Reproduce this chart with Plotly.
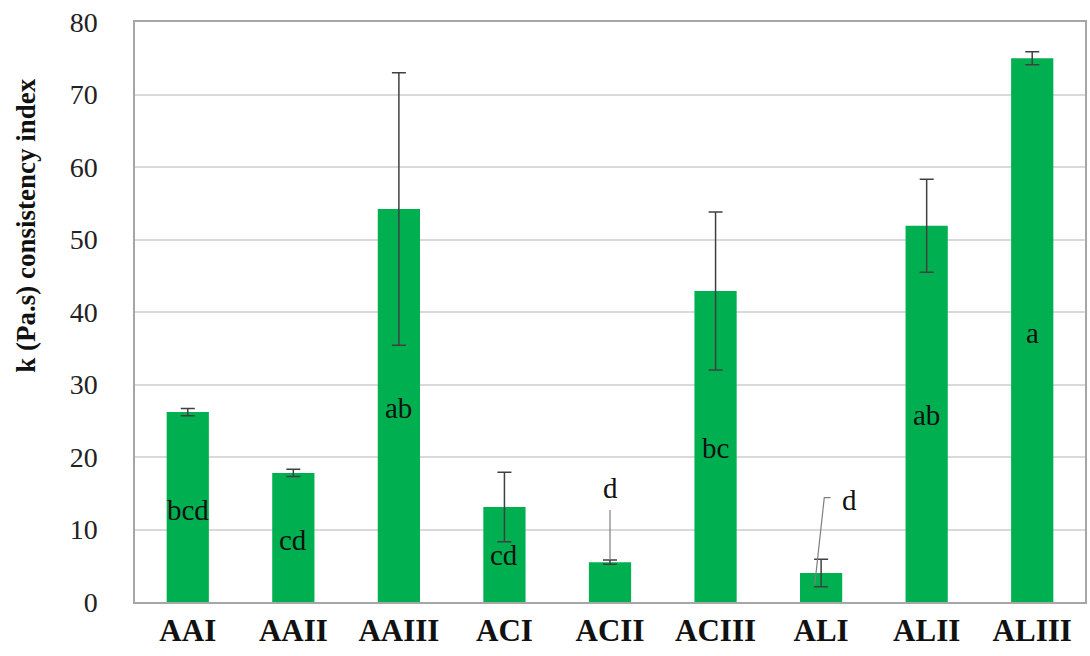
import plotly.graph_objects as go

categories = ["AAI", "AAII", "AAIII", "ACI", "ACII", "ACIII", "ALI", "ALII", "ALIII"]
k_values = [26.2, 17.8, 54.2, 13.1, 5.5, 42.9, 4.0, 51.9, 75.0]
k_errors = [0.5, 0.5, 18.8, 4.8, 0.3, 10.9, 1.9, 6.4, 0.9]
letters = ["bcd", "cd", "ab", "cd", "d", "bc", "d", "ab", "a"]
letter_y = [12.7, 8.5, 26.7, 6.5, 15.7, 21.3, 14.1, 25.8, 37.1]
letter_dx = [0, 0, 0, 0, 0, 0, 0.27, 0, 0]
y_ticks = [0, 10, 20, 30, 40, 50, 60, 70, 80]

SERIF = "Liberation Serif"

fig = go.Figure()
fig.add_trace(go.Bar(
    x=list(range(len(categories))),
    y=k_values,
    width=0.4,
    marker=dict(color="#00b050", line=dict(width=0)),
    error_y=dict(type="data", array=k_errors, visible=True,
                 color="#404040", thickness=1.5, width=7),
    hoverinfo="x+y",
))

annotations = []
for i, (lab, ly, dx) in enumerate(zip(letters, letter_y, letter_dx)):
    annotations.append(dict(
        x=i + dx, y=ly, xref="x", yref="y", text=lab, showarrow=False,
        font=dict(family=SERIF, size=29, color="#111111"),
    ))

annotations.append(dict(
    xref="paper", yref="paper", x=-0.115, y=0.65, xanchor="center", yanchor="middle",
    text="<b>k (Pa.s) consistency index</b>", textangle=-90, showarrow=False,
    font=dict(family=SERIF, size=27, color="#111111"),
))

shapes = [
    # leader line for ACII letter
    dict(type="line", xref="x", yref="y", x0=4, x1=4, y0=12.7, y1=5.8,
         line=dict(color="#7f7f7f", width=1.2)),
    # elbow leader line for ALI letter
    dict(type="path", xref="x", yref="y",
         path="M 6.09,14.4 L 6.03,14.4 L 5.94,2.4",
         line=dict(color="#7f7f7f", width=1.2)),
]

fig.update_layout(
    width=1090, height=656,
    margin=dict(l=135, r=3, t=22, b=54),
    paper_bgcolor="white", plot_bgcolor="white",
    showlegend=False,
    annotations=annotations,
    shapes=shapes,
    font=dict(family=SERIF),
    xaxis=dict(
        tickmode="array", tickvals=list(range(len(categories))),
        ticktext=[f"<b>{c}</b>" for c in categories],
        range=[-0.5, len(categories) - 0.5],
        showline=True, mirror=True, linecolor="#a6a6a6", linewidth=1.5,
        showgrid=False, ticks="", zeroline=False,
        tickfont=dict(family=SERIF, size=31, color="#111111"),
    ),
    yaxis=dict(
        range=[0, 80], tickmode="array", tickvals=y_ticks,
        showline=True, mirror=True, linecolor="#a6a6a6", linewidth=1.5,
        showgrid=True, gridcolor="#d9d9d9", gridwidth=1.5, zeroline=False,
        ticks="", ticklabelstandoff=30,
        tickfont=dict(family=SERIF, size=28, color="#222222"),
    ),
)

fig.write_html("out.html")
